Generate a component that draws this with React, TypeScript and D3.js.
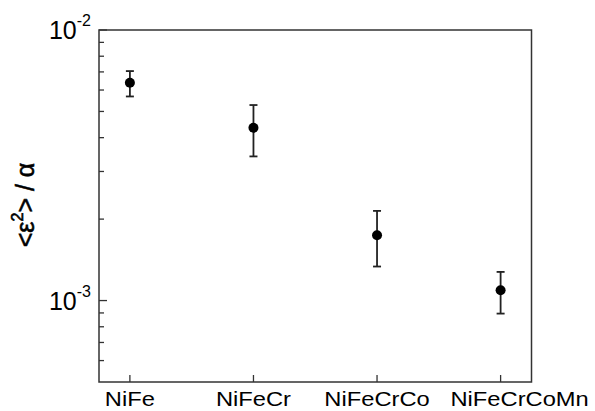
import React, { useEffect } from "react";
import * as d3 from "d3";

// Mean-square microstrain over alpha per alloy, with error bounds
const categories = ["NiFe", "NiFeCr", "NiFeCrCo", "NiFeCrCoMn"];
const values = [6.38e-3, 4.35e-3, 1.744e-3, 1.091e-3];
const upper = [7.05e-3, 5.28e-3, 2.145e-3, 1.276e-3];
const lower = [5.68e-3, 3.41e-3, 1.336e-3, 0.895e-3];
const majorTicks = [1e-3, 1e-2];
const minorTicks = [6e-4, 7e-4, 8e-4, 9e-4, 2e-3, 3e-3, 4e-3, 5e-3, 6e-3, 7e-3, 8e-3, 9e-3];

const W = 595;
const H = 411;
const frame = { left: 99, right: 531.5, top: 30, bottom: 382 };
const font = "'Liberation Sans', Arial, Helvetica, sans-serif";

export default function App() {
  useEffect(() => {
    document.body.style.margin = "0";
  }, []);

  const x = d3.scaleLinear().domain([-0.25, 3.25]).range([frame.left, frame.right]);
  const y = d3.scaleLog().domain([5e-4, 1e-2]).range([frame.bottom, frame.top]);
  const capHalf = 4;
  const stroke = "#222";

  return (
    <svg width={W} height={H} style={{ display: "block", background: "#fff" }} fontFamily={font}>
      {/* plot frame */}
      <rect
        x={frame.left}
        y={frame.top}
        width={frame.right - frame.left}
        height={frame.bottom - frame.top}
        fill="none"
        stroke="#333"
        strokeWidth={1.5}
      />

      {/* y ticks (inward) */}
      {majorTicks.map((t) => (
        <line key={"M" + t} x1={frame.left} x2={frame.left + 8} y1={y(t)} y2={y(t)} stroke="#333" strokeWidth={1.3} />
      ))}
      {minorTicks.map((t) => (
        <line key={"m" + t} x1={frame.left} x2={frame.left + 5} y1={y(t)} y2={y(t)} stroke="#333" strokeWidth={1.3} />
      ))}
      {majorTicks.map((t) => (
        <text key={"L" + t} x={91} y={y(t) + 9} textAnchor="end" fontSize={25} fill="#000">
          10
          <tspan fontSize={16} dy={-13}>
            {"-" + Math.round(-Math.log10(t))}
          </tspan>
        </text>
      ))}

      {/* x ticks (inward) and category labels */}
      {categories.map((c, i) => {
        const last = i === categories.length - 1;
        const lx = x(i) + (last ? 19 : 0);
        return (
          <g key={c}>
            <line x1={x(i)} x2={x(i)} y1={frame.bottom} y2={frame.bottom - 7} stroke="#333" strokeWidth={1.3} />
            <text
              transform={`translate(${lx},406) scale(1.13,1)`}
              textAnchor="middle"
              fontSize={21}
              fill="#000"
            >
              {c}
            </text>
          </g>
        );
      })}

      {/* error bars and markers */}
      {categories.map((c, i) => (
        <g key={"p" + c}>
          <line x1={x(i)} x2={x(i)} y1={y(upper[i])} y2={y(lower[i])} stroke={stroke} strokeWidth={1.8} />
          <line x1={x(i) - capHalf} x2={x(i) + capHalf} y1={y(upper[i])} y2={y(upper[i])} stroke={stroke} strokeWidth={1.8} />
          <line x1={x(i) - capHalf} x2={x(i) + capHalf} y1={y(lower[i])} y2={y(lower[i])} stroke={stroke} strokeWidth={1.8} />
          <circle cx={x(i)} cy={y(values[i])} r={5} fill="#000" />
        </g>
      ))}

      {/* y axis title */}
      <text
        transform={`translate(34,205) rotate(-90)`}
        textAnchor="middle"
        fontSize={25}
        fill="#000"
        stroke="#000"
        strokeWidth={0.6}
      >
        {"<ε"}
        <tspan fontSize={16} dy={-11}>
          2
        </tspan>
        <tspan dy={11}>{"> / α"}</tspan>
      </text>
    </svg>
  );
}
